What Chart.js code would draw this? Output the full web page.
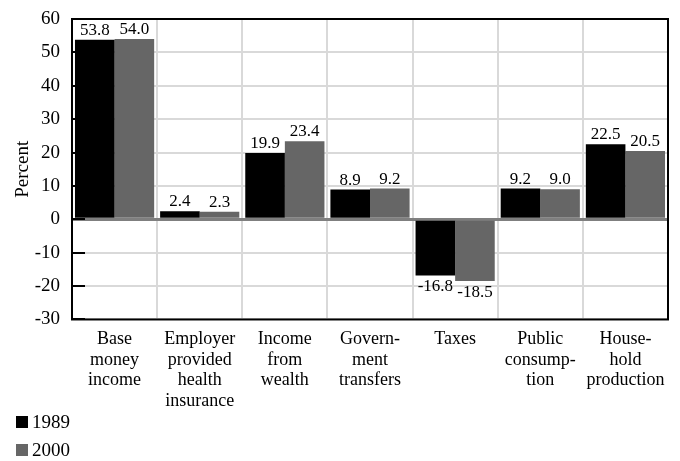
<!DOCTYPE html>
<html>
<head>
<meta charset="utf-8">
<script src="https://cdn.jsdelivr.net/npm/chart.js@4"></script>
<style>
  html, body { margin: 0; padding: 0; background: #fff; }
  #wrap { position: relative; width: 680px; height: 461px; }
  #legend { position: absolute; left: 16px; top: 408px; font: 19px "Liberation Serif", serif; color: #000; }
  #legend div { display: flex; align-items: center; height: 28px; }
  #legend span.box { display: inline-block; width: 12px; height: 12px; margin-right: 4px; }
</style>
</head>
<body>
<div id="wrap">
  <canvas id="myChart" width="680" height="461"></canvas>
  <div id="legend"></div>
</div>
<script>
const categories = [
  ['Base', 'money', 'income'],
  ['Employer', 'provided', 'health', 'insurance'],
  ['Income', 'from', 'wealth'],
  ['Govern-', 'ment', 'transfers'],
  ['Taxes'],
  ['Public', 'consump-', 'tion'],
  ['House-', 'hold', 'production']
];
const years = ['1989', '2000'];
const values1989 = [53.8, 2.4, 19.9, 8.9, -16.8, 9.2, 22.5];
const values2000 = [54.0, 2.3, 23.4, 9.2, -18.5, 9.0, 20.5];
const yTicks = [-30, -20, -10, 0, 10, 20, 30, 40, 50, 60];

const serif = '"Liberation Serif", serif';

// value labels above (or below) each bar
const barLabels = {
  id: 'barLabels',
  afterDatasetsDraw(chart) {
    const ctx = chart.ctx;
    ctx.save();
    ctx.font = '17px ' + serif;
    ctx.fillStyle = '#000';
    ctx.textAlign = 'center';
    chart.data.datasets.forEach((ds, i) => {
      chart.getDatasetMeta(i).data.forEach((bar, j) => {
        const v = ds.data[j];
        if (v >= 0) {
          ctx.textBaseline = 'bottom';
          ctx.fillText(v.toFixed(1), bar.x, bar.y - 1);
        } else {
          ctx.textBaseline = 'top';
          ctx.fillText(v.toFixed(1), bar.x, bar.y + 3);
        }
      });
    });
    ctx.restore();
  }
};

// short black ticks inside the plot on the left edge
const innerTicks = {
  id: 'innerTicks',
  beforeDatasetsDraw(chart) {
    const ctx = chart.ctx;
    const y = chart.scales.y;
    const left = chart.chartArea.left;
    ctx.save();
    ctx.strokeStyle = '#000';
    ctx.lineWidth = 2;
    yTicks.forEach(t => {
      const py = Math.round(y.getPixelForValue(t));
      ctx.beginPath();
      ctx.moveTo(left, py);
      ctx.lineTo(left + 13, py);
      ctx.stroke();
    });
    ctx.restore();
  }
};

// black frame round the plot area
const frame = {
  id: 'frame',
  afterDraw(chart) {
    const a = chart.chartArea;
    const ctx = chart.ctx;
    ctx.save();
    ctx.strokeStyle = '#000';
    ctx.lineWidth = 2;
    ctx.strokeRect(a.left, a.top, a.right - a.left, a.bottom - a.top);
    ctx.restore();
  }
};

const ctx = document.querySelector('#myChart').getContext('2d');
const myChart = new Chart(ctx, {
  type: 'bar',
  data: {
    labels: categories,
    datasets: [{
      label: years[0],
      data: values1989,
      backgroundColor: '#000000',
      barPercentage: 1.0,
      categoryPercentage: 0.93
    }, {
      label: years[1],
      data: values2000,
      backgroundColor: '#666666',
      barPercentage: 1.0,
      categoryPercentage: 0.93
    }]
  },
  options: {
    responsive: false,
    animation: false,
    layout: { padding: { left: 9, top: 0, right: 12, bottom: 40 } },
    plugins: {
      legend: { display: false },
      tooltip: { enabled: false }
    },
    scales: {
      x: {
        grid: { color: '#d9d9d9', lineWidth: 2, drawTicks: false },
        border: { display: false },
        ticks: {
          color: '#000',
          font: { family: serif, size: 18, lineHeight: 1.16 },
          padding: 9,
          maxRotation: 0,
          autoSkip: false
        }
      },
      y: {
        min: -30,
        max: 60,
        afterBuildTicks(scale) {
          scale.ticks = yTicks.map(v => ({ value: v }));
        },
        afterFit(scale) {
          scale.width = 63;
          scale.paddingTop = 19;
        },
        grid: {
          drawTicks: false,
          color: c => c.tick && c.tick.value === 0 ? '#7f7f7f' : '#d9d9d9',
          lineWidth: c => c.tick && c.tick.value === 0 ? 3 : 2
        },
        border: { display: false },
        ticks: {
          color: '#000',
          font: { family: serif, size: 19 },
          padding: 12
        },
        title: {
          display: true,
          text: 'Percent',
          color: '#000',
          font: { family: serif, size: 19 },
          padding: { top: 3, bottom: 2 }
        }
      }
    }
  },
  plugins: [innerTicks, barLabels, frame]
});

// two-row legend under the category labels
const legend = document.querySelector('#legend');
myChart.data.datasets.forEach(ds => {
  const row = document.createElement('div');
  row.innerHTML = '<span class="box" style="background:' + ds.backgroundColor + '"></span>' + ds.label;
  legend.appendChild(row);
});
</script>
</body>
</html>
